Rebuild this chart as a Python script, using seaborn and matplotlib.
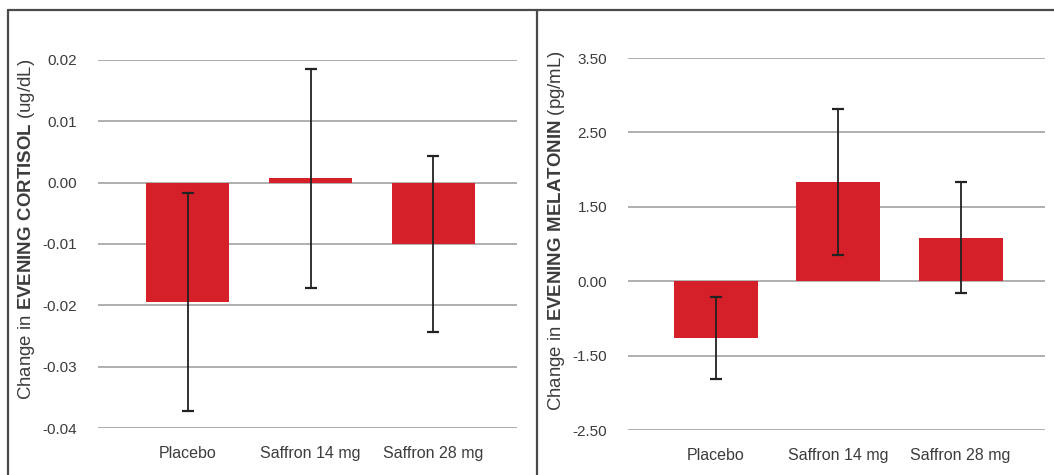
import numpy as np
import pandas as pd
import seaborn as sns
import matplotlib.pyplot as plt
from matplotlib.lines import Line2D

groups = ['Placebo', 'Saffron 14 mg', 'Saffron 28 mg']

# evening cortisol change (ug/dL), mean and symmetric error
cortisol_mean = [-0.0195, 0.0007, -0.0100]
cortisol_err = [0.0178, 0.0179, 0.0144]

# evening melatonin change (pg/mL), mean with lower / upper error ends
melatonin_mean = [-1.14, 1.83, 0.88]
melatonin_low = [-1.81, 0.52, -0.23]
melatonin_high = [-0.31, 2.82, 1.83]

cortisol_ticks = [-0.04, -0.03, -0.02, -0.01, 0.00, 0.01, 0.02]
melatonin_ticks = [-2.50, -1.50, 0.00, 1.50, 2.50, 3.50]

sns.set_style('white')
plt.rcParams['font.family'] = ['Liberation Sans', 'DejaVu Sans']
plt.rcParams['mathtext.fontset'] = 'custom'
plt.rcParams['mathtext.rm'] = 'Liberation Sans'
plt.rcParams['mathtext.bf'] = 'Liberation Sans:bold'

RED = '#d5202a'
GRID = '#afafaf'
TXT = '#3c3c3c'

fig = plt.figure(figsize=(10.54, 4.75), dpi=100)
ax1 = fig.add_axes([98 / 1054, 1 - 428 / 475, 419 / 1054, 368 / 475])
ax2 = fig.add_axes([628 / 1054, 1 - 430 / 475, 417 / 1054, 372 / 475])

# melatonin axis has unevenly labelled but evenly spaced gridlines
knots_v = np.array([-1000, -2.5, -1.5, 0, 1.5, 2.5, 3.5, 1000])
knots_p = np.array([-997.5, 0, 1, 2, 3, 4, 5, 1001.5])


def fwd(v):
    return np.interp(v, knots_v, knots_p)


def inv(p):
    return np.interp(p, knots_p, knots_v)


cort = pd.DataFrame({'group': groups, 'value': cortisol_mean})
mela = pd.DataFrame({'group': groups, 'value': melatonin_mean})

sns.barplot(data=cort, x='group', y='value', color=RED, saturation=1,
            width=0.675, errorbar=None, linewidth=0, ax=ax1)
sns.barplot(data=mela, x='group', y='value', color=RED, saturation=1,
            width=0.685, errorbar=None, linewidth=0, ax=ax2)

xs = np.arange(len(groups))
ax1.errorbar(xs, cortisol_mean, yerr=cortisol_err, fmt='none', ecolor='#222222',
             elinewidth=1.3, capsize=4.3, capthick=1.6, zorder=5)

yerr2 = [np.array(melatonin_mean) - np.array(melatonin_low),
         np.array(melatonin_high) - np.array(melatonin_mean)]
ax2.errorbar(xs, melatonin_mean, yerr=yerr2, fmt='none', ecolor='#222222',
             elinewidth=1.3, capsize=4.3, capthick=1.6, zorder=5)

ax2.set_yscale('function', functions=(fwd, inv))

ax1.set_ylim(-0.04, 0.02)
ax1.set_yticks(cortisol_ticks)
ax1.set_yticklabels(['%.2f' % t for t in cortisol_ticks])
ax2.set_ylim(-2.5, 3.5)
ax2.set_yticks(melatonin_ticks)
ax2.set_yticklabels(['%.2f' % t for t in melatonin_ticks])
ax1.set_xlim(-0.73, 2.68)
ax2.set_xlim(-0.72, 2.69)

ax1.set_ylabel(r'Change in $\mathbf{EVENING\ CORTISOL}$ (ug/dL)',
               fontsize=13.4, color=TXT)
ax2.set_ylabel(r'Change in $\mathbf{EVENING\ MELATONIN}$ (pg/mL)',
               fontsize=13.4, color=TXT)
ax1.yaxis.set_label_coords(-0.146, 0.54)
ax2.yaxis.set_label_coords(-0.146, 0.535)

for ax in (ax1, ax2):
    ax.set_xlabel('')
    ax.grid(axis='y', color=GRID, lw=1.4)
    ax.set_axisbelow(True)
    for s in ax.spines.values():
        s.set_visible(False)
    ax.tick_params(axis='y', length=0, pad=15, labelsize=11, labelcolor=TXT)
    ax.tick_params(axis='x', length=0, pad=13, labelsize=11.5, labelcolor=TXT)
    ax.patch.set_alpha(0)

# panel frame
for x0, y0, x1, y1 in [(8, 10, 1054, 10), (8, 10, 8, 475), (537, 10, 537, 475)]:
    fig.add_artist(Line2D([x0 / 1054, x1 / 1054], [1 - y0 / 475, 1 - y1 / 475],
                          color='#4a4a4a', lw=1.6, transform=fig.transFigure))

fig.savefig('out.png', dpi=100)
